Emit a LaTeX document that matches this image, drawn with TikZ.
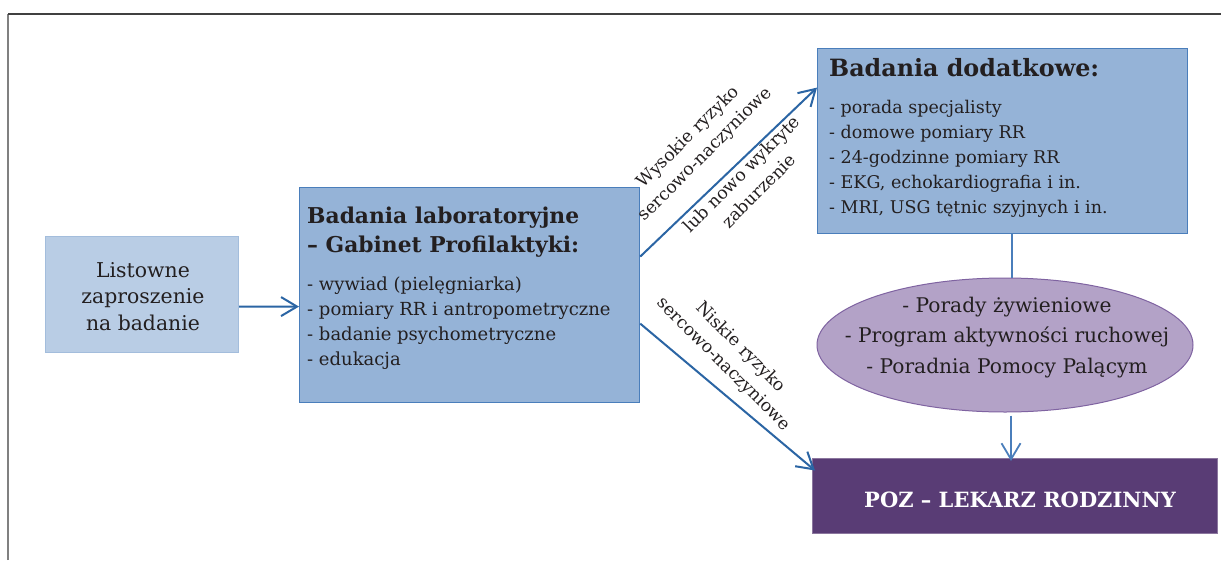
\documentclass[tikz,border=0pt]{standalone}
\usepackage{fontspec}
\setmainfont{DejaVu Serif}
\usetikzlibrary{arrows.meta,shapes.geometric}
\definecolor{txt}{HTML}{231F20}
\definecolor{invfill}{HTML}{B9CDE5}
\definecolor{invdraw}{HTML}{A3BDDC}
\definecolor{boxfill}{HTML}{95B3D7}
\definecolor{boxdraw}{HTML}{4A7EBB}
\definecolor{ellfill}{HTML}{B3A2C7}
\definecolor{elldraw}{HTML}{7F63A1}
\definecolor{pozfill}{HTML}{593C75}
\definecolor{arrcol}{HTML}{2B65A4}
\definecolor{vcol}{HTML}{4A7EBB}
\begin{document}
\begin{tikzpicture}[x=1pt,y=-1pt,
  invbox/.style={rectangle, draw=invdraw, fill=invfill, line width=1pt, inner sep=0pt, anchor=north west},
  bluebox/.style={rectangle, draw=boxdraw, fill=boxfill, line width=1.2pt, inner sep=0pt, anchor=north west},
  pozbox/.style={rectangle, draw=pozfill!70, fill=pozfill, line width=1pt, inner sep=0pt, anchor=north west},
  ellbox/.style={ellipse, draw=elldraw, fill=ellfill, line width=1pt, inner sep=0pt},
  arr/.style={draw=arrcol, line width=2pt, -{Straight Barb[length=16pt,width=19pt]}},
  varr/.style={draw=vcol, line width=1.8pt, -{Straight Barb[length=16pt,width=19pt]}},
  vline/.style={draw=vcol, line width=1.8pt},
  tx/.style={text=txt, inner sep=0pt},
  lbl/.style={text=txt, inner sep=0pt, align=center, font=\fontsize{17.3}{24}\selectfont},
]
\useasboundingbox (0,0) rectangle (1221,560);
\fill[white] (0,0) rectangle (1221,560);
% frame
\draw[line width=1.5pt, draw=gray] (8,560) -- (8,14);
\draw[line width=1.2pt, draw=black!75] (8,14) -- (1221,14);

% boxes
\node[invbox, minimum width=193pt, minimum height=116pt] (inv) at (45,236) {};
\node[bluebox, minimum width=340pt, minimum height=215pt] (lab) at (299,187) {};
\node[bluebox, minimum width=370pt, minimum height=185pt] (dod) at (817,48) {};
\node[ellbox, minimum width=376pt, minimum height=134pt] (ell) at (1005,345) {};
\node[pozbox, minimum width=405pt, minimum height=75pt] (poz) at (812,458) {};

% texts (base anchor = baseline of last line)
\node[tx, anchor=base, align=center, font=\fontsize{20.4}{26.5}\selectfont] (invtxt) at (143,330) {Listowne\\zaproszenie\\na badanie};
\node[tx, anchor=base west, align=left, font=\fontsize{21.8}{29}\selectfont\bfseries] (labhead) at (307,252) {Badania laboratoryjne\\– Gabinet Profilaktyki:};
\node[tx, anchor=base west, align=left, font=\fontsize{18}{25}\selectfont] (lablist) at (307,365) {- wywiad (pielęgniarka)\\- pomiary RR i antropometryczne\\- badanie psychometryczne\\- edukacja};
\node[tx, anchor=base west, font=\fontsize{23.8}{29}\selectfont\bfseries] (dodhead) at (829,76) {Badania dodatkowe:};
\node[tx, anchor=base west, align=left, font=\fontsize{17.5}{25}\selectfont] (dodlist) at (829,213) {- porada specjalisty\\- domowe pomiary RR\\- 24-godzinne pomiary RR\\- EKG, echokardiografia i in.\\- MRI, USG tętnic szyjnych i in.};
\node[tx, anchor=base, align=center, font=\fontsize{20.2}{30.5}\selectfont] (elltxt) at (1007,373) {- Porady żywieniowe\\- Program aktywności ruchowej\\- Poradnia Pomocy Palącym};
\node[inner sep=0pt, text=white, anchor=base, font=\fontsize{21}{25}\selectfont\bfseries] (poztxt) at (1020,507) {POZ – LEKARZ RODZINNY};

% rotated labels
\node[lbl, rotate=45] (hi1) at (697,146) {Wysokie ryzyko\\sercowo-naczyniowe};
\node[lbl, rotate=45] (hi2) at (750,182) {lub nowo wykryte\\zaburzenie};
\node[lbl, rotate=-45] (lo) at (732,356) {Niskie ryzyko\\sercowo-naczyniowe};

% connectors
\draw[arr] ([yshift=-12pt]inv.east) -- ([yshift=-11.5pt]lab.west);
\draw[arr] ([yshift=38.5pt]lab.east) -- ([yshift=53.5pt]dod.west);
\draw[arr] ([yshift=-28.5pt]lab.east) -- ([xshift=3pt,yshift=25.5pt]poz.west);
\draw[vline] ([xshift=9pt]dod.south) -- ([xshift=9pt]dod.south |- ell.north);
\draw[varr] ([xshift=6pt,yshift=-3pt]ell.south) -- ([xshift=6pt,yshift=-3pt]ell.south |- poz.north);
\end{tikzpicture}
\end{document}
